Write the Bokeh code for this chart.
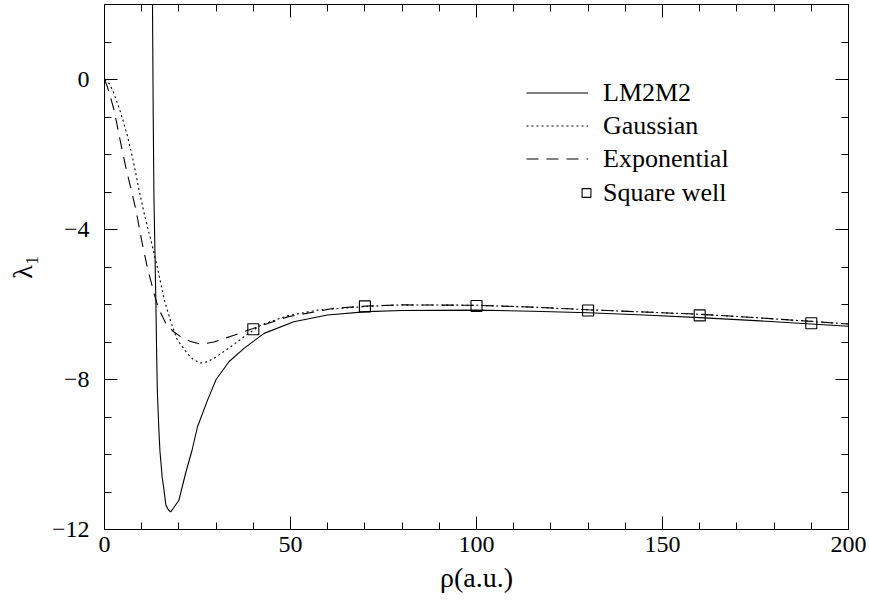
from bokeh.plotting import figure
from bokeh.models import (LinearAxis, SingleIntervalTicker, Range1d, Legend, LegendItem)
from bokeh.embed import file_html
from bokeh.resources import INLINE

# ---- data ----
rho_lm2m2 = [12.85, 12.9, 13.1, 13.3, 13.6, 13.8, 14.0, 14.2, 14.6, 14.9, 15.5, 16.0, 16.5, 17.2,
             17.8, 18.6, 20.0, 21.8, 23.5, 25.0, 27.7, 30.0, 33.5, 37.5, 42.9, 50.9, 59.9, 70.6,
             80.0, 100.0, 115.0, 130.0, 145.0, 160.0, 175.0, 190.0, 200.0]
lam_lm2m2 = [5.0, 2.0, -1.0, -3.2, -4.8, -5.86, -7.2, -8.3, -9.3, -9.9, -10.6, -10.95, -11.35, -11.48,
             -11.53, -11.42, -11.22, -10.5, -9.9, -9.26, -8.55, -8.0, -7.52, -7.17, -6.77, -6.46, -6.28, -6.19,
             -6.16, -6.15, -6.18, -6.22, -6.28, -6.35, -6.43, -6.52, -6.58]

rho_gauss = [0.0, 1.2, 2.2, 3.0, 4.0, 5.0, 6.0, 7.0, 8.0, 9.3, 10.5, 11.6, 13.0, 14.2, 16.0, 17.8,
             19.6, 22.3, 24.0, 25.9, 27.5, 29.4, 33.9, 37.5, 42.0, 49.2, 57.2, 70.6, 80.0, 100.0,
             115.0, 130.0, 145.0, 160.0, 175.0, 190.0, 200.0]
lam_gauss = [0.0, -0.1, -0.28, -0.5, -0.78, -1.1, -1.45, -1.85, -2.3, -2.95, -3.5, -3.95, -4.5, -5.0, -5.85, -6.45,
             -6.95, -7.31, -7.48, -7.56, -7.53, -7.44, -7.13, -6.86, -6.55, -6.3, -6.15, -6.05, -6.01, -6.02,
             -6.07, -6.14, -6.2, -6.26, -6.35, -6.45, -6.52]

rho_exp = [0.0, 0.8, 2.6, 4.2, 5.7, 7.2, 8.5, 10.0, 11.5, 13.3, 14.5, 16.5, 18.5, 20.5, 23.0, 25.9,
           29.4, 34.8, 41.1, 49.2, 61.7, 70.6, 80.0, 100.0, 115.0, 130.0, 145.0, 160.0, 175.0,
           190.0, 200.0]
lam_exp = [0.0, -0.2, -0.82, -1.62, -2.33, -2.95, -3.5, -4.3, -5.0, -5.7, -6.1, -6.51, -6.72, -6.86, -6.98, -7.06,
           -7.0, -6.82, -6.6, -6.33, -6.1, -6.04, -6.01, -6.02, -6.07, -6.14, -6.2, -6.26, -6.35,
           -6.45, -6.52]

rho_sw = [40, 70, 100, 130, 160, 190]
lam_sw = [-6.66, -6.05, -6.04, -6.16, -6.29, -6.5]

series_labels = ["LM2M2", "Gaussian", "Exponential", "Square well"]
x_title = "ρ(a.u.)"
y_title = "λ₁"

FONT = "'Liberation Serif', 'Times New Roman', Times, serif"

p = figure(width=869, height=603, output_backend="svg", toolbar_location=None,
           x_range=Range1d(0, 200), y_range=Range1d(-12, 2),
           min_border_left=104, min_border_right=21, min_border_top=4, min_border_bottom=74)
p.grid.visible = False
p.outline_line_color = None
p.background_fill_color = "white"
p.border_fill_color = "white"

xt = SingleIntervalTicker(interval=50, num_minor_ticks=5)
yt = SingleIntervalTicker(interval=4, num_minor_ticks=4)

def style_axis(ax, show_labels):
    ax.axis_line_color = "black"
    ax.axis_line_width = 1
    ax.major_tick_in = 13
    ax.major_tick_out = 0
    ax.minor_tick_in = 7
    ax.minor_tick_out = 0
    ax.major_tick_line_color = "black"
    ax.minor_tick_line_color = "black"
    if show_labels:
        ax.major_label_text_font = FONT
        ax.major_label_text_font_size = "24px"
        ax.major_label_text_color = "black"
        ax.axis_label_text_font = FONT
        ax.axis_label_text_font_size = "28px"
        ax.axis_label_text_font_style = "normal"
        ax.axis_label_text_color = "black"
    else:
        ax.major_label_text_font_size = "1px"
        ax.major_label_text_color = None
        ax.major_label_standoff = 0
        ax.axis_label = None

xax = p.xaxis[0]
yax = p.yaxis[0]
xax.ticker = xt
yax.ticker = yt
xax.axis_label = x_title
yax.axis_label = y_title
style_axis(xax, True)
style_axis(yax, True)
xax.major_label_standoff = 7
xax.axis_label_standoff = 7
yax.major_label_standoff = 15
yax.axis_label_standoff = 11
yax.major_label_overrides = {-12: "\u221212", -8: "\u22128", -4: "\u22124", 0: "0"}

ax_top = LinearAxis(ticker=SingleIntervalTicker(interval=50, num_minor_ticks=5))
style_axis(ax_top, False)
p.add_layout(ax_top, "above")
ax_right = LinearAxis(ticker=SingleIntervalTicker(interval=4, num_minor_ticks=4))
style_axis(ax_right, False)
p.add_layout(ax_right, "right")

r_lm = p.line(rho_lm2m2, lam_lm2m2, line_color="black", line_width=1.1)
r_g = p.line(rho_gauss, lam_gauss, line_color="black", line_width=1.1, line_dash="2 3")
r_e = p.line(rho_exp, lam_exp, line_color="black", line_width=1.1, line_dash="12 8")
r_s = p.scatter(rho_sw, lam_sw, marker="square", size=11, fill_color=None,
                line_color="black", line_width=1.1)

common = dict(padding=0, margin=0, border_line_color=None, background_fill_alpha=0,
              label_text_font=FONT, label_text_font_size="26px", label_text_color="black")

leg1 = Legend(items=[LegendItem(label=series_labels[0], renderers=[r_lm]),
                     LegendItem(label=series_labels[1], renderers=[r_g]),
                     LegendItem(label=series_labels[2], renderers=[r_e])],
              location=(422, 354), glyph_width=62, glyph_height=33, label_height=33,
              spacing=0, label_standoff=15, **common)
leg2 = Legend(items=[LegendItem(label=series_labels[3], renderers=[r_s])],
              location=(471, 320), glyph_width=22, glyph_height=33, label_height=33,
              spacing=0, label_standoff=6, **common)
p.add_layout(leg1, "center")
p.add_layout(leg2, "center")

open("out.html", "w").write(file_html(p, INLINE))
